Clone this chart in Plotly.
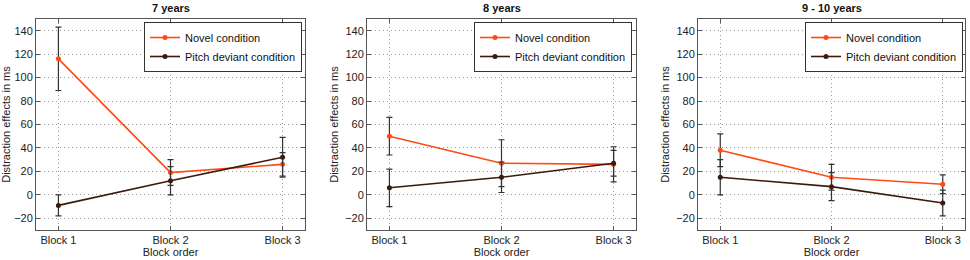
import plotly.graph_objects as go

W, H = 970, 260

blocks = ["Block 1", "Block 2", "Block 3"]
block_pos = [1, 2, 3]
panel_titles = ["7 years", "8 years", "9 - 10 years"]

novel_values = [[116, 19, 26], [50, 27, 26], [38, 15, 9]]
novel_errors = [[27, 11, 10], [16, 20, 15], [14, 11, 8]]
pitch_values = [[-9, 12, 32], [6, 15, 27], [15, 7, -7]]
pitch_errors = [[9, 12, 17], [16, 13, 11], [15, 12, 11]]

y_ticks = [-20, 0, 20, 40, 60, 80, 100, 120, 140]

NOVEL_COLOR = "#ff4a12"
PITCH_COLOR = "#3b1a0c"
ERR_COLOR = "#333333"
FONT = "Liberation Sans, Arial, Helvetica, sans-serif"

panel_px = [(36, 305), (367, 636), (698, 965)]
top_px, bot_px = 19, 230
legend_right_px = [302, 632, 963]

fig = go.Figure()

for i in range(3):
    ax = "" if i == 0 else str(i + 1)
    leg = "legend" if i == 0 else f"legend{i + 1}"
    fig.add_trace(go.Scatter(
        x=block_pos, y=novel_values[i], mode="lines+markers",
        name="Novel condition",
        line=dict(color=NOVEL_COLOR, width=1.6),
        marker=dict(color=NOVEL_COLOR, size=5),
        error_y=dict(type="data", array=novel_errors[i], color=ERR_COLOR, thickness=1.2, width=3),
        xaxis="x" + ax, yaxis="y" + ax, legend=leg,
    ))
    fig.add_trace(go.Scatter(
        x=block_pos, y=pitch_values[i], mode="lines+markers",
        name="Pitch deviant condition",
        line=dict(color=PITCH_COLOR, width=1.6),
        marker=dict(color=PITCH_COLOR, size=5),
        error_y=dict(type="data", array=pitch_errors[i], color=ERR_COLOR, thickness=1.2, width=3),
        xaxis="x" + ax, yaxis="y" + ax, legend=leg,
    ))

layout = dict(
    width=W, height=H,
    margin=dict(l=0, r=0, t=0, b=0, autoexpand=False),
    paper_bgcolor="white", plot_bgcolor="white",
    font=dict(family=FONT, size=11, color="#222"),
    showlegend=True,
)

common_axis = dict(
    showline=True, linecolor="#555", linewidth=1, mirror="ticks",
    ticks="inside", ticklen=4, tickcolor="#555",
    showgrid=True, gridcolor="#999", griddash="1px,3px", gridwidth=1,
    zeroline=False, tickfont=dict(family=FONT, size=11, color="#222"),
    automargin=False,
)

annotations = []
for i in range(3):
    l, r = panel_px[i]
    ax = "" if i == 0 else str(i + 1)
    layout["xaxis" + ax] = dict(
        common_axis,
        domain=[l / W, r / W],
        range=[0.8, 3.2],
        tickvals=block_pos, ticktext=blocks,
        anchor="y" + ax,
        title=dict(text="Block order", standoff=2, font=dict(family=FONT, size=11, color="#222")),
    )
    layout["yaxis" + ax] = dict(
        common_axis,
        domain=[1 - bot_px / H, 1 - top_px / H],
        range=[-30, 150],
        tickvals=y_ticks,
        anchor="x" + ax,
        title=dict(text="Distraction effects in ms", standoff=4, font=dict(family=FONT, size=11, color="#222")),
    )
    leg = "legend" if i == 0 else f"legend{i + 1}"
    layout[leg] = dict(
        x=legend_right_px[i] / W, xanchor="right",
        y=1 - 22 / H, yanchor="top",
        bgcolor="white", bordercolor="#333", borderwidth=1,
        font=dict(family=FONT, size=11, color="#111"),
        tracegroupgap=0, itemwidth=30,
    )
    annotations.append(dict(
        text=f"<b>{panel_titles[i]}</b>", x=(l + r) / 2 / W, y=1 - 8 / H,
        xref="paper", yref="paper", showarrow=False,
        xanchor="center", yanchor="middle",
        font=dict(family=FONT, size=11, color="#111"),
    ))

layout["annotations"] = annotations
fig.update_layout(**layout)
fig.write_html(
    "out.html",
    config={"displayModeBar": False},
    post_script="document.body.style.margin='0';document.body.style.overflow='hidden';",
)
